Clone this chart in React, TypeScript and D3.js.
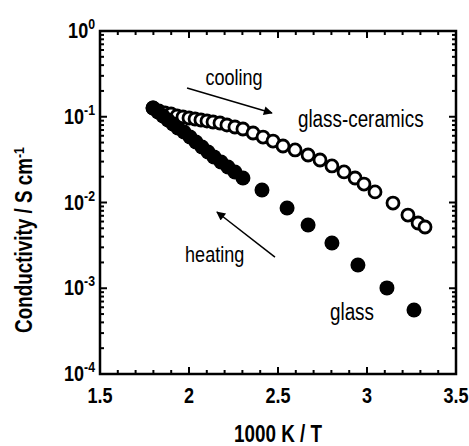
import React, { useEffect, useRef } from "react";
import * as d3 from "d3";

// glass (heating), filled circles
const glassX = [
  1.798, 1.826, 1.854, 1.882, 1.91, 1.938, 1.972, 2.006, 2.039, 2.073, 2.107, 2.14,
  2.18, 2.219, 2.258, 2.303, 2.41, 2.551, 2.669, 2.803, 2.949, 3.112, 3.264,
];
const glassY = [
  0.1265, 0.1136, 0.102, 0.0917, 0.0823, 0.0739, 0.0664, 0.058, 0.0508, 0.0444,
  0.0388, 0.034, 0.0297, 0.0259, 0.0227, 0.0193, 0.014, 0.00863, 0.00547, 0.00337,
  0.00187, 0.00101, 0.000557,
];

// glass-ceramics (cooling), open circles
const ceramX = [
  1.798, 1.831, 1.865, 1.899, 1.933, 1.966, 2.0, 2.034, 2.067, 2.101, 2.135, 2.174,
  2.213, 2.258, 2.303, 2.36, 2.416, 2.472, 2.528, 2.596, 2.669, 2.736, 2.803, 2.871,
  2.933, 2.983, 3.045, 3.146, 3.23, 3.287, 3.326,
];
const ceramY = [
  0.1265, 0.1167, 0.1106, 0.1076, 0.102, 0.0993, 0.0967, 0.0941, 0.0917, 0.0892,
  0.0868, 0.0845, 0.0801, 0.0759, 0.072, 0.0646, 0.058, 0.0521, 0.0456, 0.041,
  0.0358, 0.0313, 0.0267, 0.0227, 0.0193, 0.0164, 0.0133, 0.00986, 0.00714,
  0.00577, 0.00518,
];

const xTicks = [1.5, 2, 2.5, 3, 3.5];
const xTickLabels = ["1.5", "2", "2.5", "3", "3.5"];
const yExponents = [0, -1, -2, -3, -4];

const FONT = "'Liberation Sans', Arial, sans-serif";
const NARROW = 0.82; // squeeze to mimic a narrow face

const App = () => {
  const container = useRef<HTMLDivElement>(null);

  useEffect(() => {
    const width = 469;
    const height = 446;
    const left = 100;
    const right = 456;
    const top = 31;
    const bottom = 374;

    const x = d3.scaleLinear().domain([1.5, 3.5]).range([left, right]);
    const y = d3.scaleLog().domain([1e-4, 1]).range([bottom, top]);

    const svg = d3
      .select(container.current)
      .append("svg")
      .attr("width", width)
      .attr("height", height)
      .attr("viewBox", [0, 0, width, height])
      .style("position", "absolute")
      .style("left", "0px")
      .style("top", "0px")
      .style("background", "#fff")
      .style("font-family", FONT);

    // text squeezed horizontally around its anchor point
    const narrow = (tx: number, ty: number, size: number, bold: boolean, anchor: string, rot = 0) =>
      svg
        .append("g")
        .attr("transform", `translate(${tx},${ty}) rotate(${rot}) scale(${NARROW},1)`)
        .append("text")
        .attr("text-anchor", anchor)
        .attr("font-size", size)
        .attr("font-weight", bold ? "bold" : "normal");

    svg
      .append("defs")
      .append("marker")
      .attr("id", "head")
      .attr("viewBox", "0 0 10 10")
      .attr("refX", 9)
      .attr("refY", 5)
      .attr("markerWidth", 13)
      .attr("markerHeight", 9)
      .attr("markerUnits", "userSpaceOnUse")
      .attr("orient", "auto")
      .append("path")
      .attr("d", "M0,0 L10,5 L0,10 Z")
      .attr("fill", "#000");

    // frame
    svg
      .append("rect")
      .attr("x", left)
      .attr("y", top)
      .attr("width", right - left)
      .attr("height", bottom - top)
      .attr("fill", "none")
      .attr("stroke", "#000")
      .attr("stroke-width", 2.5);

    // ticks (inside, on all four sides)
    const ticks = svg.append("g").attr("stroke", "#000").attr("stroke-width", 2);
    const xMinor = d3.range(15, 36).map((d) => d / 10);
    xMinor.forEach((v) => {
      const major = Math.abs(v * 2 - Math.round(v * 2)) < 1e-6;
      const len = major ? 7 : 4;
      ticks.append("line").attr("x1", x(v)).attr("x2", x(v)).attr("y1", bottom).attr("y2", bottom - len);
      ticks.append("line").attr("x1", x(v)).attr("x2", x(v)).attr("y1", top).attr("y2", top + len);
    });
    const yVals: number[] = [];
    for (let e = -4; e < 0; e++) {
      for (let m = 1; m <= 9; m++) yVals.push(m * Math.pow(10, e));
    }
    yVals.push(1);
    yVals.forEach((v) => {
      const major = Math.abs(Math.log10(v) - Math.round(Math.log10(v))) < 1e-6;
      const len = major ? 7 : 4;
      ticks.append("line").attr("x1", left).attr("x2", left + len).attr("y1", y(v)).attr("y2", y(v));
      ticks.append("line").attr("x1", right).attr("x2", right - len).attr("y1", y(v)).attr("y2", y(v));
    });

    // x tick labels
    xTicks.forEach((v, i) => {
      narrow(x(v), 403, 22, true, "middle").text(xTickLabels[i]);
    });

    // y tick labels 10^n
    yExponents.forEach((e) => {
      const t = narrow(95, y(Math.pow(10, e)) + 7, 22, true, "end");
      t.append("tspan").text("10");
      t.append("tspan").attr("dy", -9).attr("font-size", 15).text(String(e));
    });

    // axis titles
    narrow((left + right) / 2, 442, 23, true, "middle").text("1000 K / T");

    const yt = narrow(32, 240, 23, true, "middle", -90);
    yt.append("tspan").text("Conductivity / S cm");
    yt.append("tspan").attr("dy", -8).attr("font-size", 15).text("-1");

    // data
    const ceram = ceramX.map((v, i) => [v, ceramY[i]]);
    const glass = glassX.map((v, i) => [v, glassY[i]]);

    svg
      .append("g")
      .selectAll("circle")
      .data(ceram)
      .join("circle")
      .attr("cx", (d) => x(d[0]))
      .attr("cy", (d) => y(d[1]))
      .attr("r", 6)
      .attr("fill", "#fff")
      .attr("stroke", "#000")
      .attr("stroke-width", 2.8);

    svg
      .append("g")
      .selectAll("circle")
      .data(glass)
      .join("circle")
      .attr("cx", (d) => x(d[0]))
      .attr("cy", (d) => y(d[1]))
      .attr("r", 7.5)
      .attr("fill", "#000");

    // annotations
    svg
      .append("line")
      .attr("x1", x(1.989))
      .attr("y1", y(0.216))
      .attr("x2", x(2.466))
      .attr("y2", y(0.1106))
      .attr("stroke", "#000")
      .attr("stroke-width", 1.5)
      .attr("marker-end", "url(#head)");
    svg
      .append("line")
      .attr("x1", x(2.483))
      .attr("y1", y(0.00231))
      .attr("x2", x(2.157))
      .attr("y2", y(0.00775))
      .attr("stroke", "#000")
      .attr("stroke-width", 1.5)
      .attr("marker-end", "url(#head)");

    narrow(x(2.253), y(0.2345), 22, false, "middle").text("cooling");
    narrow(x(2.612), y(0.0759), 23, false, "start").text("glass-ceramics");
    narrow(x(1.978), y(0.00202), 22, false, "start").text("heating");
    narrow(x(2.792), y(0.000426), 23, false, "start").text("glass");

    return () => {
      svg.remove();
    };
  }, []);

  return <div ref={container}></div>;
};

export default App;
